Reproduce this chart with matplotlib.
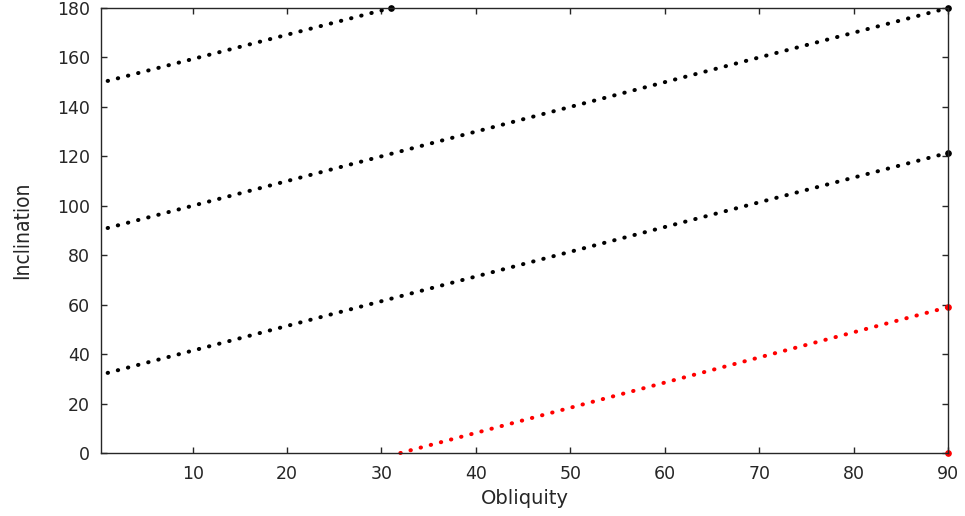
import matplotlib
matplotlib.use("Agg")
import matplotlib.pyplot as plt

# endpoints (obliquity, inclination)
obl_1 = [1, 31]
inc_1 = [150.5, 180]
obl_2 = [1, 90]
inc_2 = [91, 180]
obl_3 = [1, 90]
inc_3 = [32.4, 121.4]
obl_red = [32, 90]
inc_red = [0, 59]
obl_red_pt = [90]
inc_red_pt = [0]

xticks = [10, 20, 30, 40, 50, 60, 70, 80, 90]
yticks = [0, 20, 40, 60, 80, 100, 120, 140, 160, 180]

txt = "#262626"

fig = plt.figure(figsize=(9.65, 5.16), dpi=100)
ax = fig.add_axes([0.1047, 0.1221, 0.8777, 0.8624])

dots = dict(linestyle=(0, (0.1, 2.5)), dash_capstyle="round", linewidth=2.9,
            marker="o", markersize=3.8, markevery=[1], clip_on=False)
ax.plot(obl_1, inc_1, color="black", **dots)
ax.plot(obl_2, inc_2, color="black", **dots)
ax.plot(obl_3, inc_3, color="black", **dots)
ax.plot(obl_red, inc_red, color="red", **dots)
ax.plot(obl_red_pt, inc_red_pt, "o", color="red", markersize=3.8, clip_on=False)

ax.set_xlim(0.3, 90)
ax.set_ylim(0, 180)
ax.set_xticks(xticks)
ax.set_yticks(yticks)

ax.tick_params(direction="in", length=4, width=1, colors=txt, labelsize=12.5,
               top=True, right=True)
ax.tick_params(axis="x", pad=9)
ax.tick_params(axis="y", pad=8)
for sp in ax.spines.values():
    sp.set_color(txt)
    sp.set_linewidth(1)

ax.set_xlabel("Obliquity", fontsize=14, color=txt, labelpad=4)
ax.set_ylabel("Inclination", fontsize=15, color=txt, labelpad=18,
              family="DejaVu Sans", stretch="condensed")

fig.savefig("out.png", dpi=100)
